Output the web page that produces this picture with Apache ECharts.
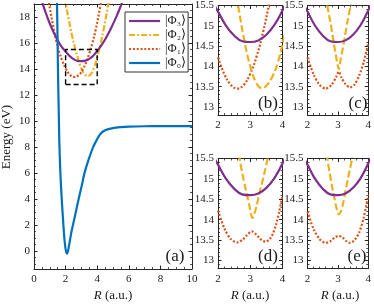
<!DOCTYPE html>
<html><head><meta charset="utf-8">
<script src="https://cdn.jsdelivr.net/npm/echarts@6/dist/echarts.min.js"></script>
<style>html,body{margin:0;padding:0;background:#fff}#c{width:374px;height:305px}</style>
</head><body><div id="c"></div>
<script>
// ---------- data (R in a.u., Energy in eV) ----------
const legendNames = ['|Φ\u2083\u27E9', '|Φ\u2082\u27E9', '|Φ\u2081\u27E9', '|Φ\u2080\u27E9'];

const phi0Main = [[1.44,20.5],[1.47,18],[1.5,15.5],[1.53,13],[1.57,10.5],[1.6,8.5],[1.65,6.6],[1.7,5.2],[1.75,4.1],[1.8,3.1],[1.86,2.0],[1.92,1.0],[1.98,0.3],[2.04,-0.12],[2.08,-0.22],[2.12,-0.15],[2.18,0.15],[2.26,0.7],[2.36,1.4],[2.47,2.0],[2.65,3.0],[2.83,4.0],[3.02,5.0],[3.2,6.0],[3.45,7.0],[3.75,8.0],[4.0,8.6],[4.2,9.0],[4.5,9.28],[5.0,9.45],[5.5,9.52],[6.0,9.56],[7.0,9.59],[8.0,9.6],[10.0,9.6]];
const phi1Main = [[0.9,19.4],[1.0,18.7],[1.2,17.4],[1.4,16.2],[1.6,15.3],[1.8,14.6],[2.0,14.05],[2.2,13.65],[2.4,13.43],[2.55,13.38],[2.7,13.43],[2.9,13.6],[3.1,14.0],[3.3,14.5],[3.5,15.2],[3.7,16.0],[3.9,17.0],[4.1,18.2],[4.3,19.5]];
const phi2Main = [[1.95,19.5],[2.0,19.1],[2.2,17.8],[2.4,16.6],[2.6,15.6],[2.8,14.75],[3.0,14.05],[3.2,13.6],[3.4,13.45],[3.6,13.6],[3.8,14.1],[4.0,14.9],[4.2,15.9],[4.4,17.0],[4.6,18.3],[4.8,19.7]];
const phi3All = [[0.5,19.2],[0.75,18.3],[1.0,17.5],[1.25,16.8],[1.5,16.2],[1.75,15.7],[2.0,15.35],[2.25,15.0],[2.5,14.76],[2.75,14.62],[3.0,14.6],[3.25,14.64],[3.5,14.78],[3.75,15.02],[4.0,15.38],[4.25,15.8],[4.5,16.27],[4.75,16.82],[5.0,17.45],[5.25,18.12],[5.5,18.87],[5.75,19.67]];
const zoomBox = [[2,12.8],[4,12.8],[4,15.5],[2,15.5],[2,12.8]];

const phi1B = [[2.0,14.22],[2.2,13.8],[2.4,13.54],[2.6,13.45],[2.8,13.54],[3.0,13.82],[3.2,14.25],[3.4,14.85],[3.6,15.6],[3.7,16.0]];
const phi2B = [[2.5,15.98],[2.6,15.6],[2.8,14.7],[3.0,14.0],[3.2,13.57],[3.36,13.46],[3.5,13.52],[3.7,13.77],[3.85,14.08],[4.0,14.55],[4.1,14.9]];

const lowC = [[2.0,14.22],[2.2,13.8],[2.4,13.54],[2.6,13.45],[2.8,13.55],[2.95,13.75],[3.03,13.87],[3.12,13.72],[3.25,13.56],[3.4,13.48],[3.55,13.55],[3.7,13.77],[3.85,14.1],[4.0,14.58]];
const upC = [[2.6,15.75],[2.65,15.5],[2.75,15.1],[2.85,14.65],[2.95,14.2],[3.03,13.93],[3.1,14.2],[3.2,14.6],[3.3,15.05],[3.42,15.5],[3.48,15.75]];

const lowD = [[2.0,14.22],[2.2,13.78],[2.4,13.52],[2.6,13.44],[2.75,13.5],[2.9,13.62],[3.05,13.71],[3.2,13.62],[3.35,13.5],[3.48,13.46],[3.6,13.52],[3.7,13.65],[3.8,13.88],[3.9,14.2],[4.0,14.6]];
const upD = [[2.6,15.85],[2.67,15.5],[2.75,15.15],[2.83,14.85],[2.9,14.6],[2.97,14.35],[3.02,14.15],[3.07,14.04],[3.13,14.15],[3.2,14.35],[3.27,14.6],[3.35,14.85],[3.44,15.15],[3.54,15.5],[3.6,15.75]];

const lowE = [[2.0,14.2],[2.2,13.77],[2.4,13.52],[2.6,13.43],[2.75,13.47],[2.9,13.56],[3.03,13.6],[3.15,13.56],[3.28,13.47],[3.4,13.43],[3.55,13.5],[3.7,13.68],[3.85,14.05],[4.0,14.6]];
const upE = [[2.58,15.85],[2.65,15.5],[2.73,15.15],[2.8,14.85],[2.88,14.55],[2.95,14.3],[3.03,14.13],[3.1,14.2],[3.17,14.4],[3.25,14.7],[3.33,15.0],[3.4,15.25],[3.47,15.5],[3.55,15.85]];

// ticks
const mainXRange = [0, 10], mainYRange = [-1.4, 19];
const mainXTicks = [0,2,4,6,8,10];
const mainYTicks = [0,2,4,6,8,10,12,14,16,18];
const panelXRange = [2, 4], panelYRange = [12.8, 15.5];
const panelXTicks = [2,3,4];
const panelYTicks = [13,13.5,14,14.5,15,15.5];
const panelLabels = ['(a)','(b)','(c)','(d)','(e)'];

// ---------- build ----------
const FONT = 'Liberation Serif';
const AX = '#262626', TXT = '#1a1a1a';
const COL = {p3:'#7E2F8E', p2:'#EDB120', p1:'#D95319', p0:'#0072BD'};

function steps(a, b, s) { const r = []; for (let v = Math.ceil(a / s - 1e-9) * s; v <= b + 1e-9; v += s) r.push(Math.round(v * 1000) / 1000); return r; }

const grids = [
  {left:34, top:4, width:158, height:265},
  {left:218, top:5, width:64.5, height:110},
  {left:307.5, top:5, width:65, height:110},
  {left:218, top:158.5, width:64.5, height:110},
  {left:307.5, top:158.5, width:65, height:110}
];
const xAxes = [], yAxes = [], primary = [];

function makeAxis(gi, range, maj, min, pos, withLabels, isX) {
  const base = {gridIndex:gi, type:'value', min:range[0], max:range[1], position:pos, splitLine:{show:false}};
  const a1 = Object.assign({}, base, {
    axisLine:{show:true, onZero:false, lineStyle:{color:AX, width:1}},
    axisTick:{show:true, inside:true, length:3.5, customValues:maj, lineStyle:{color:AX, width:1}},
    axisLabel:{show:withLabels, customValues:maj, margin:isX?5:4, fontFamily:FONT, fontSize:11, color:TXT}
  });
  const a2 = Object.assign({}, base, {
    axisLine:{show:false, onZero:false},
    axisTick:{show:true, inside:true, length:2, customValues:min, lineStyle:{color:AX, width:0.8}},
    axisLabel:{show:false}
  });
  return [a1, a2];
}

function addGrid(gi, xr, yr, xMaj, yMaj, xMinStep, yMinStep) {
  const xMin = steps(xr[0], xr[1], xMinStep), yMin = steps(yr[0], yr[1], yMinStep);
  const xi = xAxes.length, yi = yAxes.length;
  xAxes.push(...makeAxis(gi, xr, xMaj, xMin, 'bottom', true, true));
  xAxes.push(...makeAxis(gi, xr, xMaj, xMin, 'top', false, true));
  yAxes.push(...makeAxis(gi, yr, yMaj, yMin, 'left', true, false));
  yAxes.push(...makeAxis(gi, yr, yMaj, yMin, 'right', false, false));
  primary[gi] = {xi, yi};
}
addGrid(0, mainXRange, mainYRange, mainXTicks, mainYTicks, 0.5, 0.5);
for (let g = 1; g <= 4; g++) addGrid(g, panelXRange, panelYRange, panelXTicks, panelYTicks, 0.2, 0.1);

const DASHDOT = [6,2,2,2], DASH = [7,3], DOT = [2,1.8];
const series = [];
function addLine(gi, name, data, color, type, width, smooth, z) {
  series.push({
    type:'line', name:name, xAxisIndex:primary[gi].xi, yAxisIndex:primary[gi].yi,
    data:data, symbol:'none', showSymbol:false, smooth:smooth, clip:true, z:z||2,
    lineStyle:{color:color, width:width, type:type, cap:'butt'}, itemStyle:{color:color},
    animation:false, silent:true
  });
}
// main panel
addLine(0, legendNames[0], phi3All, COL.p3, 'solid', 2.2, 0.4, 3);
addLine(0, legendNames[1], phi2Main, COL.p2, DASHDOT, 2.2, 0.4, 2);
addLine(0, legendNames[2], phi1Main, COL.p1, DOT, 2.2, 0.4, 2);
addLine(0, legendNames[3], phi0Main, COL.p0, 'solid', 2.2, 0.25, 4);
addLine(0, 'box', zoomBox, '#000', [5,3], 1.4, false, 5);
// panel b
addLine(1, legendNames[2], phi1B, COL.p1, DOT, 2.2, 0.4);
addLine(1, legendNames[1], phi2B, COL.p2, DASH, 2.2, 0.4);
addLine(1, legendNames[0], phi3All, COL.p3, 'solid', 2.2, 0.4, 3);
// panel c
addLine(2, legendNames[2], lowC, COL.p1, DOT, 2.2, 0.25);
addLine(2, legendNames[1], upC, COL.p2, DASH, 2.2, 0.2);
addLine(2, legendNames[0], phi3All, COL.p3, 'solid', 2.2, 0.4, 3);
// panel d
addLine(3, legendNames[2], lowD, COL.p1, DOT, 2.2, 0.3);
addLine(3, legendNames[1], upD, COL.p2, DASH, 2.2, 0.3);
addLine(3, legendNames[0], phi3All, COL.p3, 'solid', 2.2, 0.4, 3);
// panel e
addLine(4, legendNames[2], lowE, COL.p1, DOT, 2.2, 0.3);
addLine(4, legendNames[1], upE, COL.p2, DASH, 2.2, 0.3);
addLine(4, legendNames[0], phi3All, COL.p3, 'solid', 2.2, 0.4, 3);

function txt(x, y, text, size, extra) {
  return Object.assign({type:'text', x:x, y:y, z:100, silent:true,
    style:{text:text, fontFamily:FONT, fontSize:size, fill:TXT, textAlign:'center', textVerticalAlign:'middle',
      rich:{i:{fontStyle:'italic', fontFamily:FONT, fontSize:size, fill:TXT}}}}, extra||{});
}
const labelPos = [[175,257],[268,104],[358,104],[268,257],[357,257]];
const graphic = labelPos.map((p, i) => txt(p[0], p[1], panelLabels[i], 17));
graphic.push(txt(7, 137, 'Energy (eV)', 13, {rotation: Math.PI/2}));
graphic.push(txt(113, 295.5, '{i|R} (a.u.)', 13));
graphic.push(txt(250, 295.5, '{i|R} (a.u.)', 13));
graphic.push(txt(340, 295.5, '{i|R} (a.u.)', 13));

const chart = echarts.init(document.getElementById('c'), null, {renderer:'canvas'});
chart.setOption({
  animation:false,
  backgroundColor:'#fff',
  grid: grids,
  xAxis: xAxes,
  yAxis: yAxes,
  legend: {
    data: legendNames, orient:'vertical', left:125, top:12, padding:[2,2,2,3], itemGap:0,
    itemWidth:31, itemHeight:12, itemTextGap:3, selectedMode:false,
    itemStyle:{opacity:0, borderWidth:0},
    lineStyle:{width:2.2},
    backgroundColor:'#fff', borderColor:'#333', borderWidth:1, borderRadius:0,
    textStyle:{fontFamily:FONT, fontSize:12.5, lineHeight:14, color:TXT}
  },
  series: series,
  graphic: graphic
});
</script></body></html>
